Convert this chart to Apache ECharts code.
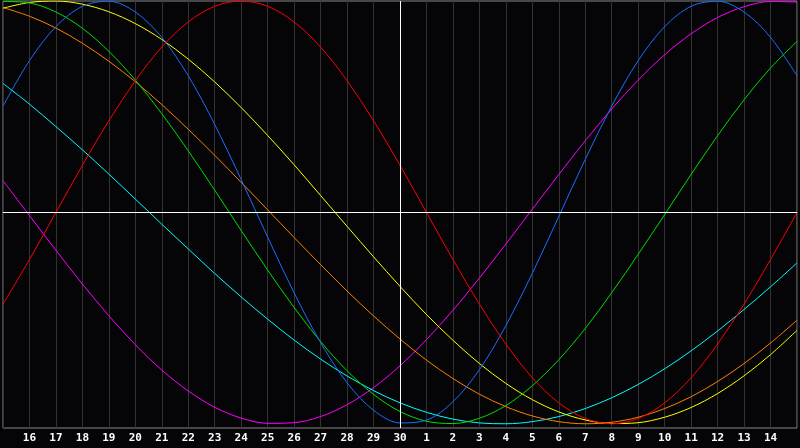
<!DOCTYPE html>
<html>
<head>
<meta charset="utf-8">
<script src="https://cdn.jsdelivr.net/npm/echarts@6/dist/echarts.min.js"></script>
<style>
  html, body { margin: 0; padding: 0; background: #050508; }
  #main { width: 800px; height: 448px; }
</style>
</head>
<body>
<div id="main"></div>
<script>
// days shown along the bottom (first and last are the edges, unlabeled)
const days = ['15','16','17','18','19','20','21','22','23','24','25','26','27','28','29','30',
              '1','2','3','4','5','6','7','8','9','10','11','12','13','14','15'];

// curve values, -1 .. 1, one per day
const physical = [0.503,0.718,0.879,0.975,0.999,0.948,0.828,0.646,0.416,0.155,-0.117,-0.381,-0.616,-0.806,-0.936,-0.996,
                  -0.983,-0.896,-0.744,-0.536,-0.288,-0.019,0.251,0.503,0.718,0.879,0.975,0.999,0.948,0.828,0.646];
const emotional = [-0.434,-0.223,0,0.223,0.434,0.623,0.782,0.901,0.975,1,0.975,0.901,0.782,0.623,0.434,0.223,
                   0,-0.223,-0.434,-0.623,-0.782,-0.901,-0.975,-1,-0.975,-0.901,-0.782,-0.623,-0.434,-0.223,0];
const intellectual = [0.998,0.991,0.948,0.871,0.762,0.626,0.467,0.291,0.105,-0.086,-0.273,-0.450,-0.611,-0.749,-0.861,-0.942,
                      -0.988,-0.999,-0.974,-0.914,-0.820,-0.697,-0.549,-0.380,-0.198,-0.010,0.180,0.363,0.533,0.683,0.809];
const aesthetic = [0.966,0.993,1.000,0.985,0.949,0.893,0.818,0.725,0.617,0.496,0.364,0.225,0.080,-0.066,-0.210,-0.350,
                   -0.483,-0.605,-0.715,-0.809,-0.886,-0.944,-0.982,-0.999,-0.995,-0.969,-0.923,-0.857,-0.773,-0.673,-0.558];
const awareness = [0.969,0.928,0.872,0.800,0.715,0.618,0.510,0.393,0.270,0.142,0.012,-0.119,-0.247,-0.372,-0.490,-0.599,
                   -0.699,-0.786,-0.860,-0.919,-0.963,-0.990,-1.000,-0.993,-0.969,-0.928,-0.872,-0.800,-0.715,-0.618,-0.510];
const spiritual = [0.610,0.512,0.406,0.296,0.181,0.063,-0.056,-0.173,-0.289,-0.400,-0.505,-0.604,-0.694,-0.774,-0.843,-0.901,
                   -0.946,-0.978,-0.996,-1.000,-0.990,-0.966,-0.928,-0.877,-0.814,-0.740,-0.655,-0.561,-0.459,-0.352,-0.239];
const intuitive = [0.150,-0.015,-0.179,-0.339,-0.489,-0.626,-0.746,-0.845,-0.922,-0.973,-0.998,-0.995,-0.966,-0.910,-0.829,-0.726,
                   -0.602,-0.463,-0.311,-0.150,0.015,0.179,0.339,0.489,0.626,0.746,0.845,0.922,0.973,0.998,0.995];

const curves = [
  { name: 'Intuitive', data: intuitive, color: '#ff00ff' },
  { name: 'Spiritual', data: spiritual, color: '#00ffff' },
  { name: 'Awareness', data: awareness, color: '#ff7f00' },
  { name: 'Aesthetic', data: aesthetic, color: '#ffff00' },
  { name: 'Intellectual', data: intellectual, color: '#00dd00' },
  { name: 'Physical', data: physical, color: '#1a6eff' },
  { name: 'Emotional', data: emotional, color: '#ff0000' }
];

var myChart = echarts.init(document.getElementById('main'));

var series = curves.map(c => ({
  name: c.name,
  type: 'line',
  data: c.data,
  smooth: 0.33,
  showSymbol: false,
  symbol: 'none',
  lineStyle: { color: c.color, width: 1 },
  z: 3
}));

// white cross: today (30) and the zero line
series.push({
  type: 'line',
  data: [],
  z: 2,
  markLine: {
    silent: true,
    symbol: 'none',
    label: { show: false },
    lineStyle: { color: '#ffffff', width: 1, type: 'solid' },
    data: [{ xAxis: '30' }, { yAxis: 0 }]
  }
});

var option = {
  backgroundColor: '#050508',
  animation: false,
  grid: {
    left: 0, right: 0, top: 1, bottom: 20,
    show: true, borderColor: '#888', borderWidth: 1, backgroundColor: 'transparent'
  },
  xAxis: {
    type: 'category',
    data: days,
    boundaryGap: false,
    axisLine: { lineStyle: { color: '#8a8a8a', width: 1 } },
    axisTick: { show: false },
    axisLabel: {
      interval: 0,
      margin: 5,
      color: '#ffffff',
      fontFamily: 'DejaVu Sans Mono',
      fontWeight: 'bold',
      fontSize: 11,
      formatter: (v, i) => (i === 0 || i === days.length - 1) ? '' : v
    },
    splitLine: { show: true, interval: 0, lineStyle: { color: '#333333', width: 1 } }
  },
  yAxis: {
    type: 'value',
    min: -1.02,
    max: 1,
    show: false,
    splitLine: { show: false }
  },
  series: series
};
myChart.setOption(option);
</script>
</body>
</html>
